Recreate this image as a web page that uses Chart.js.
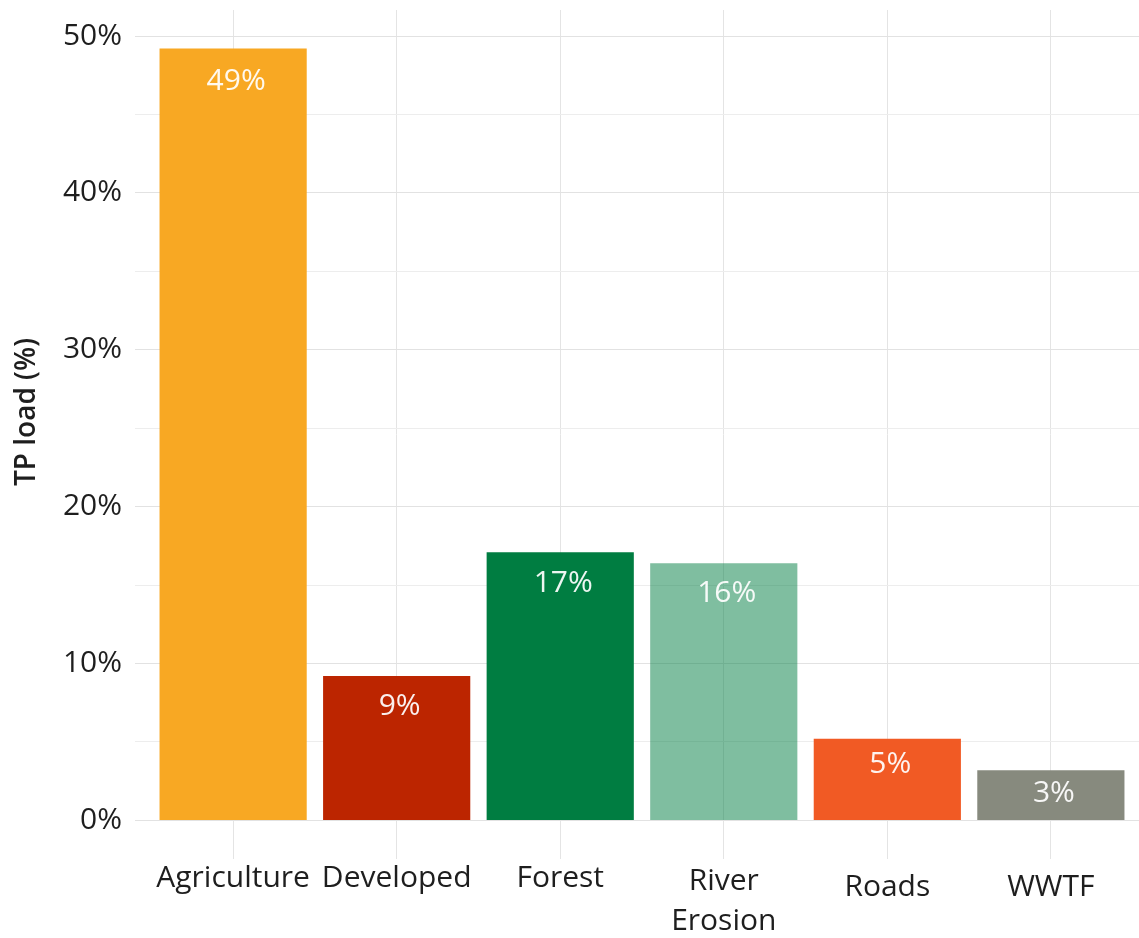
<!DOCTYPE html>
<html>
<head>
<meta charset="utf-8">
<script src="https://cdn.jsdelivr.net/npm/chart.js@4.4.1/dist/chart.umd.min.js"></script>
<style>
    html, body { margin: 0; padding: 0; background: #fff; overflow: hidden; }
    #wrap { width: 1150px; height: 938px; }
</style>
</head>
<body>
<div id="wrap"><canvas id="tpChart" width="1150" height="938"></canvas></div>
<script>
// data
const categories = ['Agriculture', 'Developed', 'Forest', ['River', 'Erosion'], 'Roads', 'WWTF'];
const tpLoad = [49.2, 9.2, 17.1, 16.4, 5.2, 3.2];
const barColors = ['#f8a823', '#bc2500', '#007d41', 'rgba(0,125,65,0.5)', '#f15a24', '#878a7e'];
const yGridValues = [0, 5, 10, 15, 20, 25, 30, 35, 40, 45, 50];
const yTickLabels = ['0%', '', '10%', '', '20%', '', '30%', '', '40%', '', '50%'];
const yTitle = 'TP load (%)';

// styling: per-label line height (x labels) and how far the value label sits below the bar top
const labelLineHeights = [34, 34, 34, 40, 52, 52];
const valueLabelDrop = [33, 30.5, 31.5, 30.5, 26, 23.5];

const FONT = "'Open Sans', 'Noto Sans', sans-serif";
const TEXT = '#1e1e1e';

// value labels inside the top of each bar + the y title
const barLabels = {
    id: 'barLabels',
    afterDatasetsDraw(chart) {
        const ctx = chart.ctx;
        const meta = chart.getDatasetMeta(0);
        ctx.save();
        ctx.font = '30px ' + FONT;
        ctx.fillStyle = 'rgba(255,255,255,0.93)';
        ctx.textAlign = 'center';
        ctx.textBaseline = 'middle';
        meta.data.forEach((bar, i) => {
            ctx.fillText(Math.round(tpLoad[i]) + '%', bar.x + 3, bar.y + valueLabelDrop[i]);
        });
        ctx.restore();

        ctx.save();
        ctx.translate(27, 412);
        ctx.rotate(-Math.PI / 2);
        ctx.font = '600 28px ' + FONT;
        ctx.fillStyle = TEXT;
        ctx.textAlign = 'center';
        ctx.textBaseline = 'middle';
        ctx.fillText(yTitle, 0, 0);
        ctx.restore();
    }
};

new Chart(document.getElementById('tpChart').getContext('2d'), {
    type: 'bar',
    data: {
        datasets: [{
            data: tpLoad.map((v, i) => ({ x: i + 1, y: v })),
            backgroundColor: barColors,
            borderWidth: 0,
            barPercentage: 0.9,
            categoryPercentage: 1.0
        }]
    },
    options: {
        responsive: false,
        animation: false,
        layout: { padding: { left: 0, top: 10, right: 1, bottom: 0 } },
        plugins: {
            legend: { display: false },
            tooltip: { enabled: false }
        },
        scales: {
            x: {
                type: 'linear',
                offset: false,
                min: 0.4,
                max: 6.6,
                afterBuildTicks: axis => {
                    axis.ticks = categories.map((c, i) => ({ value: i + 1 }));
                },
                afterFit: scale => {
                    scale.height = 79;
                    scale.paddingLeft = 0;
                    scale.paddingRight = 0;
                },
                border: { display: false },
                grid: { offset: false, color: '#e4e4e4', lineWidth: 1, drawTicks: false, tickLength: 0 },
                ticks: {
                    autoSkip: false,
                    maxRotation: 0,
                    padding: 2,
                    color: TEXT,
                    font: ctx => ({ family: FONT, size: 30, lineHeight: labelLineHeights[ctx.index] + 'px' }),
                    callback: v => categories[v - 1]
                }
            },
            y: {
                min: -2.46,
                max: 51.66,
                afterBuildTicks: axis => {
                    axis.ticks = yGridValues.map(v => ({ value: v }));
                },
                afterFit: scale => {
                    scale.width = 135;
                    scale.paddingTop = 0;
                    scale.paddingBottom = 0;
                },
                border: { display: false },
                grid: {
                    color: ctx => (ctx.tick && ctx.tick.value % 10 === 0) ? '#e2e2e2' : '#ededed',
                    lineWidth: 1,
                    drawTicks: false,
                    tickLength: 0
                },
                ticks: {
                    padding: 13,
                    color: TEXT,
                    font: { family: FONT, size: 30 },
                    callback: v => yTickLabels[yGridValues.indexOf(v)]
                }
            }
        }
    },
    plugins: [barLabels]
});
</script>
</body>
</html>
